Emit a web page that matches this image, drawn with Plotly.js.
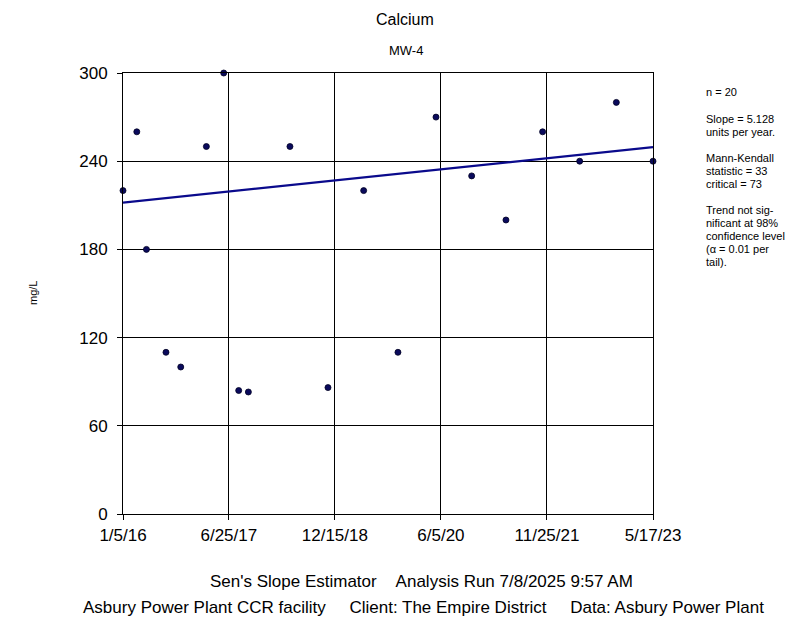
<!DOCTYPE html>
<html>
<head>
<meta charset="utf-8">
<script src="https://cdn.plot.ly/plotly-3.0.1.min.js"></script>
<style>
  html, body { margin: 0; padding: 0; background: #ffffff; }
  #chart { width: 791px; height: 624px; }
</style>
</head>
<body>
<div id="chart"></div>
<script>
// Calcium concentrations, well MW-4 (mg/L)
const sampleDates = [
  '2016-01-05', '2016-03-15', '2016-05-03', '2016-08-10', '2016-10-24',
  '2017-03-03', '2017-05-30', '2017-08-14', '2017-10-02', '2018-05-01',
  '2018-11-10', '2019-05-10', '2019-10-31', '2020-05-11', '2020-11-08',
  '2021-05-01', '2021-11-03', '2022-05-10', '2022-11-12', '2023-05-17'
];
const calcium = [
  220, 260, 180, 110, 100,
  250, 300, 84, 83, 250,
  86, 220, 110, 270, 230,
  200, 260, 240, 280, 240
];

// Sen's slope trend line
const slopePerYear = 5.128;
const trendStartValue = 211.8;
const trendDates = ['2016-01-05', '2023-05-17'];

// Axis ticks
const xTickDates = ['2016-01-05', '2017-06-25', '2018-12-15', '2020-06-05', '2021-11-25', '2023-05-17'];
const xTickLabels = ['1/5/16', '6/25/17', '12/15/18', '6/5/20', '11/25/21', '5/17/23'];
const yTickValues = [0, 60, 120, 180, 240, 300];

// Statistics box lines
const statLines = [
  'n = 20',
  'Slope = 5.128', 'units per year.',
  'Mann-Kendall', 'statistic = 33', 'critical = 73',
  'Trend not sig-', 'nificant at 98%', 'confidence level', '(\u03b1 = 0.01 per', 'tail).'
];
const statLineY = [92, 119, 132, 158, 171, 184, 210, 223, 236, 249, 262];

const msPerYear = 365.25 * 24 * 3600 * 1000;
const trendValues = trendDates.map(d =>
  trendStartValue + slopePerYear * (new Date(d) - new Date(trendDates[0])) / msPerYear
);

const FONT = 'Arial, "Liberation Sans", sans-serif';
const W = 791, H = 624;
const PL = 123, PR = 653, PT = 73, PB = 514;
const px = x => (x - PL) / (PR - PL);
const py = y => (PB - y) / (PB - PT);

const traces = [
  {
    x: trendDates,
    y: trendValues,
    mode: 'lines',
    line: { color: '#0a0a8c', width: 2.2 },
    hoverinfo: 'skip',
    cliponaxis: false
  },
  {
    x: sampleDates,
    y: calcium,
    mode: 'markers',
    marker: { color: '#0a0a5c', size: 6, line: { color: '#000022', width: 0.8 } },
    cliponaxis: false
  }
];

const textAnn = (text, x, y, size, xanchor, extra) => Object.assign({
  text: text, xref: 'paper', yref: 'paper', x: px(x), y: py(y),
  xanchor: xanchor, yanchor: 'middle', showarrow: false,
  font: { family: FONT, size: size, color: '#000000' }
}, extra || {});

const annotations = [
  textAnn('Calcium', 405, 19, 16, 'center'),
  textAnn('MW-4', 406, 50, 13, 'center'),
  textAnn('mg/L', 33, 293, 11, 'center', { textangle: -90 }),
  textAnn("Sen's Slope Estimator&nbsp;&nbsp;&nbsp;&nbsp;Analysis Run 7/8/2025 9:57 AM", 208, 581, 17, 'left'),
  textAnn('Asbury Power Plant CCR facility&nbsp;&nbsp;&nbsp;&nbsp;&nbsp;Client: The Empire District&nbsp;&nbsp;&nbsp;&nbsp;&nbsp;Data: Asbury Power Plant', 81, 607, 17, 'left')
];
statLines.forEach((t, i) => annotations.push(textAnn(t, 704, statLineY[i], 11, 'left')));

const layout = {
  width: W,
  height: H,
  margin: { l: PL, r: W - PR, t: PT, b: H - PB },
  paper_bgcolor: '#ffffff',
  plot_bgcolor: '#ffffff',
  showlegend: false,
  font: { family: FONT, color: '#000000' },
  xaxis: {
    type: 'date',
    range: ['2016-01-05', '2023-05-17'],
    tickvals: xTickDates,
    ticktext: xTickLabels,
    tickfont: { family: FONT, size: 17, color: '#000000' },
    ticks: 'outside', ticklen: 5, tickcolor: '#000000', tickwidth: 1,
    ticklabelstandoff: 1,
    showgrid: true, gridcolor: '#000000', gridwidth: 1,
    showline: true, linecolor: '#000000', linewidth: 1, mirror: true,
    zeroline: false,
    fixedrange: true
  },
  yaxis: {
    range: [0, 300],
    tickvals: yTickValues,
    tickfont: { family: FONT, size: 17, color: '#000000' },
    ticks: 'outside', ticklen: 5, tickcolor: '#000000', tickwidth: 1,
    ticklabelstandoff: 6,
    showgrid: true, gridcolor: '#000000', gridwidth: 1,
    showline: true, linecolor: '#000000', linewidth: 1, mirror: true,
    zeroline: false,
    fixedrange: true
  },
  annotations: annotations
};

Plotly.newPlot('chart', traces, layout, { staticPlot: true, displayModeBar: false });
</script>
</body>
</html>
